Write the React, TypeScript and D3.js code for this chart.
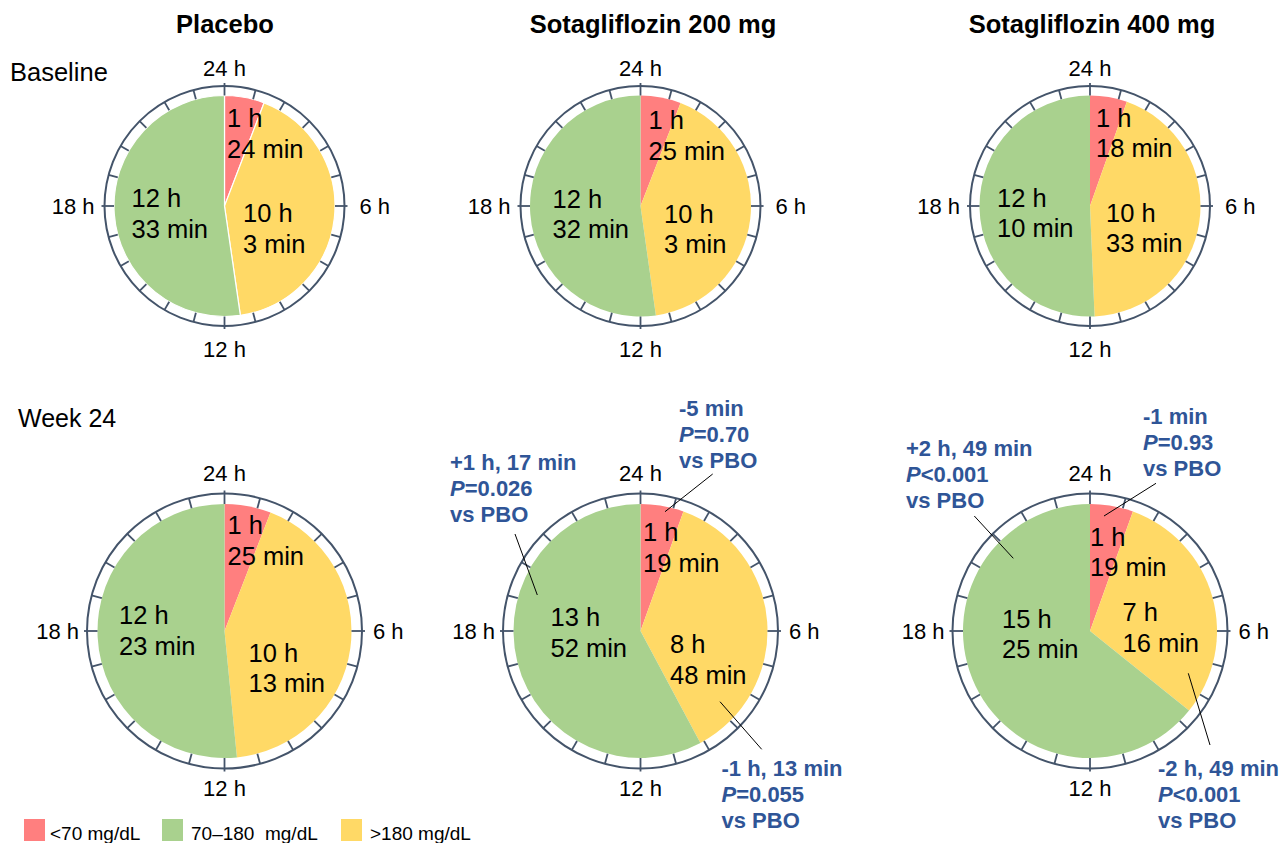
import React from "react";
import * as d3 from "d3";

// ---------- DATA ----------
const groups = ["Placebo", "Sotagliflozin 200 mg", "Sotagliflozin 400 mg"];
const timepoints = ["Baseline", "Week 24"];
const categories = ["<70 mg/dL", "70–180  mg/dL", ">180 mg/dL"];
// minutes per 24 h, one value per group
const baselineLow = [84, 85, 78];
const baselineHigh = [603, 603, 633];
const baselineInRange = [753, 752, 730];
const week24Low = [85, 79, 79];
const week24High = [613, 528, 436];
const week24InRange = [743, 832, 925];
const hourLabels = ["24 h", "6 h", "12 h", "18 h"];
// change vs placebo at week 24 (groups 2 and 3): [low, inRange, high]
const change200 = ["-5 min", "+1 h, 17 min", "-1 h, 13 min"];
const pValue200 = ["=0.70", "=0.026", "=0.055"];
const change400 = ["-1 min", "+2 h, 49 min", "-2 h, 49 min"];
const pValue400 = ["=0.93", "<0.001", "<0.001"];

// ---------- STYLE / LAYOUT ----------
const W = 1284, H = 843;
const FONT = "'Liberation Sans', Arial, sans-serif";
const COL_LOW = "#FF7F7F", COL_IN = "#A9D18E", COL_HIGH = "#FFD966";
const RING = "#44546A";
const BLUE = "#2F5597";
const colX = [224.5, 640.5, 1090];
const titleX = [225, 653, 1092];
const rowY = [206, 631];
const rowGeom = [
  { pieR: 110.5, ringR: 120, tickOut: 123, hourGap: [7, 12, 7, 9] },
  { pieR: 127, ringR: 137.5, tickOut: 140.5, hourGap: [10, 8, 5, 7] },
];
// label offsets [low, high, inRange] relative to centre: dx, baseline dy of first line
const labelOffsets = [
  [[[2.5, -79], [18.5, 16], [-93, 1]], [[8, -77], [23.5, 16.5], [-88, 1.5]], [[6, -79.5], [16, 15.5], [-93, 0.5]]],
  [[[3, -97], [24, 30.5], [-105.5, -7]], [[2.5, -90], [29.5, 22], [-90, -5]], [[0, -85.5], [32.5, -10], [-88, -3.5]]],
];
// annotation layout for week 24 columns 2 and 3: [low, inRange, high]
const annoLayout = [
  null,
  [
    { x: 679, y: 416, line: [712.7, 474, 665, 511.7] },
    { x: 450, y: 469.5, line: [515, 534, 537.3, 595] },
    { x: 721.5, y: 775.5, line: [720, 701.7, 761.7, 749.3] },
  ],
  [
    { x: 1143, y: 424, line: [1156, 483.3, 1104, 516] },
    { x: 906, y: 455.5, line: [974.3, 516, 1013.3, 558.3] },
    { x: 1158, y: 776, line: [1188.3, 673.3, 1210, 745] },
  ],
];

const fmt = (m: number) => [`${Math.floor(m / 60)} h`, `${m % 60} min`];

function Clock({ cx, cy, geom, values, offsets, white }: any) {
  const pie = d3.pie<number>().sort(null).value((d) => d)(values);
  const arc = d3.arc<any>().innerRadius(0).outerRadius(geom.pieR);
  const colors = [COL_LOW, COL_HIGH, COL_IN];
  const tickAngle = d3.scaleLinear().domain([0, 24]).range([0, 2 * Math.PI]);
  const ticks = d3.range(24);
  return (
    <g transform={`translate(${cx},${cy})`}>
      {pie.map((p, i) => (
        <path key={i} d={arc(p) as string} fill={colors[i]} stroke={white ? "#fff" : "none"} strokeWidth={white ? 1.2 : 0} />
      ))}
      <circle r={geom.ringR} fill="none" stroke={RING} strokeWidth={2} />
      {ticks.map((h) => {
        const a = tickAngle(h);
        const major = h % 6 === 0;
        const r0 = geom.pieR, r1 = major ? geom.tickOut : geom.ringR;
        return (
          <line key={h} x1={r0 * Math.sin(a)} y1={-r0 * Math.cos(a)} x2={r1 * Math.sin(a)} y2={-r1 * Math.cos(a)}
            stroke={RING} strokeWidth={1.8} />
        );
      })}
      {/* hour labels */}
      <text x={0} y={-geom.tickOut - geom.hourGap[0]} textAnchor="middle" fontSize={22} fontFamily={FONT}>{hourLabels[0]}</text>
      <text x={geom.tickOut + geom.hourGap[1]} y={8} textAnchor="start" fontSize={22} fontFamily={FONT}>{hourLabels[1]}</text>
      <text x={0} y={geom.tickOut + geom.hourGap[1] + 16} textAnchor="middle" fontSize={22} fontFamily={FONT}>{hourLabels[2]}</text>
      <text x={-geom.tickOut - geom.hourGap[2]} y={8} textAnchor="end" fontSize={22} fontFamily={FONT}>{hourLabels[3]}</text>
      {/* slice labels */}
      {values.map((v: number, i: number) => {
        const [l1, l2] = fmt(v);
        const [dx, dy] = offsets[i];
        return (
          <text key={"l" + i} x={dx} y={dy} fontSize={25.5} fontFamily={FONT} fill="#000">
            <tspan x={dx}>{l1}</tspan>
            <tspan x={dx} dy={30.5}>{l2}</tspan>
          </text>
        );
      })}
    </g>
  );
}

function Annotation({ x, y, change, p, line }: any) {
  return (
    <g>
      <line x1={line[0]} y1={line[1]} x2={line[2]} y2={line[3]} stroke="#000" strokeWidth={1} />
      <text x={x} y={y} fontSize={22} fontWeight="bold" fontFamily={FONT} fill={BLUE}>
        <tspan x={x}>{change}</tspan>
        <tspan x={x} dy={26}><tspan fontStyle="italic">P</tspan>{p}</tspan>
        <tspan x={x} dy={26}>vs PBO</tspan>
      </text>
    </g>
  );
}

export default function App() {
  const rows = [
    groups.map((_, g) => [baselineLow[g], baselineHigh[g], baselineInRange[g]]),
    groups.map((_, g) => [week24Low[g], week24High[g], week24InRange[g]]),
  ];
  const legendColors = [COL_LOW, COL_IN, COL_HIGH];
  const legendX = [24, 162, 341];
  const legendTextX = [50, 191, 370];
  return (
    <svg width={W} height={H} viewBox={`0 0 ${W} ${H}`}
      style={{ position: "absolute", left: 0, top: 0, display: "block", background: "#fff" }}>
      {groups.map((g, i) => (
        <text key={g} x={titleX[i]} y={32.5} textAnchor="middle" fontSize={25.5} fontWeight="bold" fontFamily={FONT}>{g}</text>
      ))}
      <text x={10} y={81} fontSize={25.5} fontFamily={FONT}>{timepoints[0]}</text>
      <text x={18} y={426.5} fontSize={25} fontFamily={FONT}>{timepoints[1]}</text>
      {rows.map((row, r) =>
        row.map((vals, c) => (
          <Clock key={`${r}-${c}`} cx={colX[c]} cy={rowY[r]} geom={rowGeom[r]} values={vals}
            offsets={labelOffsets[r][c]} white={r === 0 && c === 0} />
        ))
      )}
      {[1, 2].map((c) => {
        const ch = c === 1 ? change200 : change400;
        const pv = c === 1 ? pValue200 : pValue400;
        return annoLayout[c]!.map((a, i) => (
          <Annotation key={`a${c}${i}`} x={a.x} y={a.y} change={ch[i]} p={pv[i]} line={a.line} />
        ));
      })}
      {categories.map((cat, i) => (
        <g key={cat}>
          <rect x={legendX[i]} y={819} width={21} height={22} fill={legendColors[i]} />
          <text x={legendTextX[i]} y={840} fontSize={19} fontFamily={FONT} style={{ whiteSpace: "pre" }}>{cat}</text>
        </g>
      ))}
    </svg>
  );
}
